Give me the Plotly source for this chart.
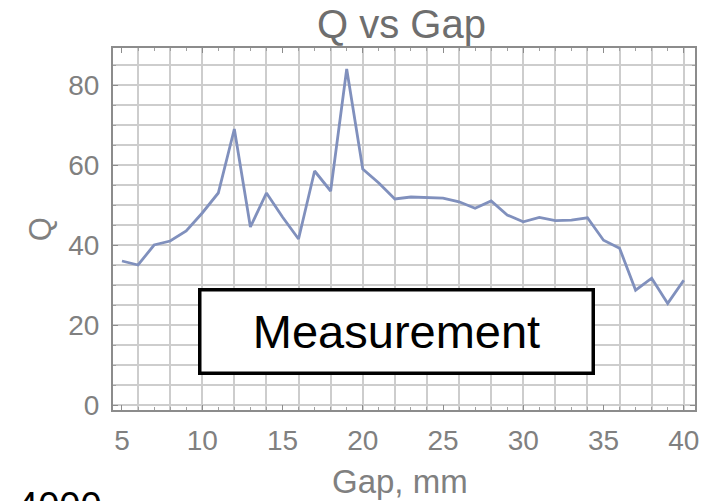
import plotly.graph_objects as go

gap_mm = list(range(5, 41))
q_values = [36, 35, 40, 41, 43.5, 48, 53, 69, 44.5, 53,
            47, 41.5, 58.5, 53.5, 84, 59, 55.5, 51.5, 52, 51.8,
            51.7, 50.8, 49.2, 51, 47.5, 45.8, 46.9, 46.1, 46.2, 46.8,
            41.2, 39.2, 28.7, 31.7, 25.4, 31.2]
x_ticks = [5, 10, 15, 20, 25, 30, 35, 40]
y_ticks = [0, 20, 40, 60, 80]

FONT = "Liberation Sans, Arial, sans-serif"
XR = [4.44, 40.7]
YR = [-1.25, 89.25]

fig = go.Figure()
# invisible trace on overlay axes so the fine grid is drawn
fig.add_trace(go.Scatter(x=[XR[0]], y=[YR[0]], xaxis="x2", yaxis="y2",
                         mode="markers", marker=dict(opacity=0),
                         showlegend=False, hoverinfo="skip"))
fig.add_trace(go.Scatter(x=gap_mm, y=q_values, mode="lines",
                         line=dict(color="#8090bd", width=2.8),
                         showlegend=False))

fig.update_layout(
    width=711, height=501,
    margin=dict(l=113, r=14, t=48, b=91),
    paper_bgcolor="white", plot_bgcolor="white",
    xaxis=dict(range=XR, tickvals=x_ticks, showgrid=False, zeroline=False,
               ticks="inside", ticklen=5, tickcolor="#8c8c8c",
               mirror="ticks", showline=True, linecolor="#8c8c8c", linewidth=2,
               tickfont=dict(family=FONT, size=28, color="#808080"),
               ticklabelstandoff=4,
               minor=dict(dtick=1, ticks="inside", ticklen=3, tickcolor="#a0a0a0")),
    yaxis=dict(range=YR, tickvals=y_ticks, showgrid=False, zeroline=False,
               ticks="inside", ticklen=5, tickcolor="#8c8c8c",
               mirror="ticks", showline=True, linecolor="#8c8c8c", linewidth=2,
               tickfont=dict(family=FONT, size=28, color="#808080"),
               ticklabelstandoff=6,
               minor=dict(dtick=5, ticks="inside", ticklen=3, tickcolor="#a0a0a0")),
    xaxis2=dict(overlaying="x", anchor="y2", range=XR, dtick=2, tick0=0,
                showgrid=True, gridcolor="#cdcdcd", gridwidth=1.6,
                showticklabels=False, ticks="", zeroline=False, showline=False),
    yaxis2=dict(overlaying="y", anchor="x2", range=YR, dtick=5, tick0=0,
                showgrid=True, gridcolor="#cdcdcd", gridwidth=1.6,
                showticklabels=False, ticks="", zeroline=False, showline=False),
)

fig.add_annotation(text="Q vs Gap", xref="paper", yref="paper", x=0.495, y=1.066,
                   xanchor="center", yanchor="middle", showarrow=False,
                   font=dict(family=FONT, size=40, color="#6e6e6e"))
fig.add_annotation(text="Gap, mm", xref="paper", yref="paper", x=0.493, y=-0.198,
                   xanchor="center", yanchor="middle", showarrow=False,
                   font=dict(family=FONT, size=33, color="#808080"))
fig.add_annotation(text="Q", xref="paper", yref="paper", x=-0.125, y=0.5,
                   xanchor="center", yanchor="middle", showarrow=False, textangle=-90,
                   font=dict(family=FONT, size=31, color="#808080"))
fig.add_annotation(text="Measurement", xref="paper", yref="paper", x=0.487, y=0.218,
                   xanchor="center", yanchor="middle", showarrow=False,
                   width=390, height=80, bgcolor="white",
                   bordercolor="black", borderwidth=3.5, borderpad=0,
                   font=dict(family=FONT, size=47, color="black"))
fig.add_annotation(text="4000", xref="paper", yref="paper", x=-0.168, y=-0.2017,
                   xanchor="left", yanchor="top", showarrow=False,
                   font=dict(family=FONT, size=38, color="black"))

fig.write_html("out.html")
